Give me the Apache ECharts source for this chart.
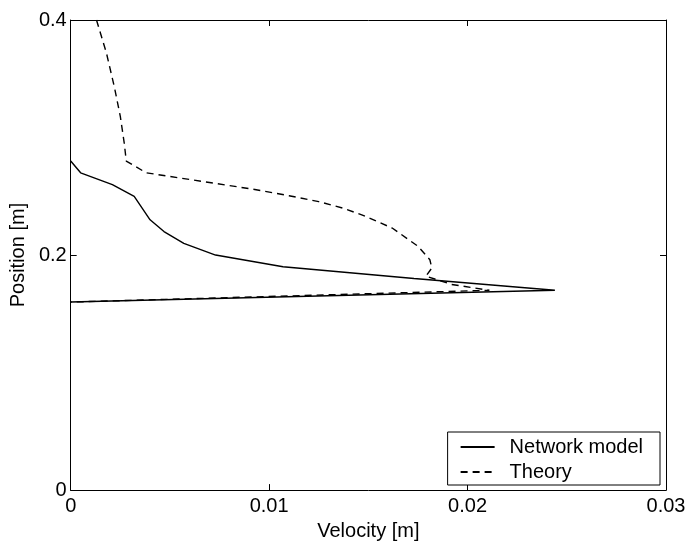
<!DOCTYPE html>
<html>
<head>
<meta charset="utf-8">
<script src="https://cdn.jsdelivr.net/npm/echarts@6/dist/echarts.min.js"></script>
<style>html,body{margin:0;padding:0;background:#fff;}#c{width:689px;height:546px;}</style>
</head>
<body>
<div id="c"></div>
<script>
// Network model (solid)
var netVel = [0, 0.0005, 0.0021, 0.0032, 0.0036, 0.0040, 0.0047, 0.0057, 0.0073, 0.0107, 0.0173, 0.0244, 0];
var netPos = [0.28, 0.27, 0.26, 0.25, 0.24, 0.23, 0.22, 0.21, 0.20, 0.19, 0.18, 0.17, 0.16];
// Theory (dashed)
var thVel = [0.0013, 0.0018, 0.0022, 0.0025, 0.0027, 0.0028, 0.0038, 0.0092, 0.0110, 0.0125, 0.0137, 0.0147, 0.0162, 0.0175, 0.0181, 0.0182, 0.0179, 0.0192, 0.0211, 0];
var thPos = [0.40, 0.372, 0.343, 0.318, 0.295, 0.28, 0.27, 0.256, 0.2505, 0.2455, 0.240, 0.234, 0.223, 0.2075, 0.196, 0.189, 0.182, 0.175, 0.17, 0.16];
var xTicks = ['0', '0.01', '0.02', '0.03'];
var yTicks = ['0', '0.2', '0.4'];

function zip(a, b) { return a.map(function (v, i) { return [v, b[i]]; }); }

var font = 'Liberation Sans, Arial, Helvetica, sans-serif';
var chart = echarts.init(document.getElementById('c'), null, {renderer: 'canvas'});
function axisCommon() {
  return {
    type: 'value',
    axisLine: {show: true, onZero: false, lineStyle: {color: '#000', width: 1}},
    axisTick: {show: true, inside: true, length: 6, lineStyle: {color: '#000'}},
    splitLine: {show: false}
  };
}
chart.setOption({
  animation: false,
  backgroundColor: '#fff',
  grid: {left: 67, right: 23, top: 20, bottom: 55, containLabel: false},
  xAxis: [
    Object.assign(axisCommon(), {
      min: 0, max: 0.03, interval: 0.01, position: 'bottom',
      name: 'Velocity [m]', nameLocation: 'middle', nameGap: 26,
      nameTextStyle: {fontFamily: font, fontSize: 20, color: '#000'},
      axisLabel: {margin: 6, fontFamily: font, fontSize: 20, color: '#000',
        formatter: function (v) { return xTicks[Math.round(v / 0.01)]; }}
    }),
    Object.assign(axisCommon(), {
      min: 0, max: 0.03, interval: 0.01, position: 'top', axisLabel: {show: false}
    })
  ],
  yAxis: [
    Object.assign(axisCommon(), {
      min: 0, max: 0.4, interval: 0.2, position: 'left',
      name: 'Position [m]', nameLocation: 'middle', nameGap: 34, nameRotate: 90,
      nameTextStyle: {fontFamily: font, fontSize: 20, color: '#000'},
      axisLabel: {margin: 4, fontFamily: font, fontSize: 20, color: '#000',
        formatter: function (v) { return yTicks[Math.round(v / 0.2)]; }}
    }),
    Object.assign(axisCommon(), {
      min: 0, max: 0.4, interval: 0.2, position: 'right', axisLabel: {show: false}
    })
  ],
  legend: {
    orient: 'vertical', right: 29, bottom: 61,
    backgroundColor: '#fff', borderColor: '#000', borderWidth: 1, borderRadius: 0,
    padding: [5, 17, 3, 12], itemGap: 5, itemWidth: 34, itemHeight: 14,
    itemStyle: {opacity: 0},
    textStyle: {fontFamily: font, fontSize: 20, color: '#000', padding: [0, 0, 0, 10]},
    data: ['Network model', 'Theory']
  },
  series: [
    {
      name: 'Network model', type: 'line', xAxisIndex: 0, yAxisIndex: 0,
      data: zip(netVel, netPos), symbol: 'none', smooth: false,
      lineStyle: {color: '#000', width: 1.4, type: 'solid'},
      itemStyle: {color: '#000'}
    },
    {
      name: 'Theory', type: 'line', xAxisIndex: 0, yAxisIndex: 0,
      data: zip(thVel, thPos), symbol: 'none', smooth: false,
      lineStyle: {color: '#000', width: 1.4, type: [7, 5]},
      itemStyle: {color: '#000'}
    }
  ]
});
</script>
</body>
</html>
